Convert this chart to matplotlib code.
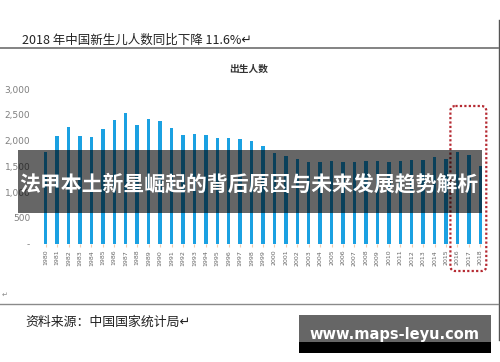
import matplotlib
matplotlib.use('Agg')
import matplotlib.pyplot as plt
from matplotlib.patches import Rectangle, FancyBboxPatch
from matplotlib.ticker import FuncFormatter

plt.rcParams['font.family'] = ['Noto Sans CJK SC', 'DejaVu Sans']

# 数据：出生人数（万人），读自原图
anios = list(range(1980, 2019))
nacimientos = [1780, 2090, 2265, 2085, 2070, 2222, 2410, 2545, 2300, 2430,
               2390, 2255, 2117, 2125, 2105, 2060, 2060, 2033, 1994, 1897,
               1767, 1697, 1647, 1592, 1588, 1605, 1586, 1592, 1605, 1605,
               1580, 1600, 1627, 1631, 1683, 1650, 1774, 1716, 1514]
y_ticks = [0, 500, 1000, 1500, 2000, 2500, 3000]
destacados = [2016, 2017, 2018]

titulo_doc = '2018 年中国新生儿人数同比下降 11.6%↵'
titulo_graf = '出生人数'
fuente = '资料来源：中国国家统计局↵'
banner = '法甲本土新星崛起的背后原因与未来发展趋势解析'
marca = 'www.maps-leyu.com'

W, H = 500, 362
fig = plt.figure(figsize=(W / 100, H / 100), dpi=100)

# eje de barras, colocado en píxeles
ax = fig.add_axes([40 / W, (H - 243.5) / H, 446 / W, 154.2 / H])
x = list(range(len(anios)))
ax.bar(x, nacimientos, width=0.3, color='#1ba1e2', zorder=2)
ax.set_xlim(-0.5, len(anios) - 0.5)
ax.set_ylim(0, 3000)
ax.set_yticks(y_ticks)
ax.yaxis.set_major_formatter(FuncFormatter(lambda v, p: '-' if v == 0 else f'{int(v):,}'))
ax.set_xticks(x)
ax.set_xticklabels([str(a) for a in anios], rotation=90, fontsize=4.5, color='#666666',
                   family='DejaVu Sans')
ax.tick_params(axis='y', length=0, pad=7, labelsize=6.5, labelcolor='#7f7f7f')
ax.tick_params(axis='x', length=2, color='#f3c9ad', pad=2.5)
for lbl in ax.get_yticklabels():
    lbl.set_family('DejaVu Sans')
for s in ax.spines.values():
    s.set_visible(False)
ax.patch.set_alpha(0)

# capa superior en coordenadas de píxel
ov = fig.add_axes([0, 0, 1, 1])
ov.set_xlim(0, W)
ov.set_ylim(H, 0)
ov.axis('off')
ov.patch.set_alpha(0)

ov.text(22, 40, titulo_doc, fontsize=9, color='#222222', va='center', ha='left')
ov.plot([0, 498], [48, 48], color='#7a7a7a', lw=1.3)
ov.plot([498.5, 498.5], [20, 340], color='#555555', lw=1.0)
ov.text(249, 69, titulo_graf, fontsize=7, color='#333333', va='center', ha='center',
        fontweight='bold')
ov.plot([0, 498], [303.5, 303.5], color='#8a8a8a', lw=1.0)
ov.text(2, 295, '↵', fontsize=5, color='#888888', va='center', ha='left')
ov.text(25, 322, fuente, fontsize=9.3, color='#222222', va='center', ha='left',
        style='italic')

# recuadro rojo punteado alrededor de los años destacados
i0 = anios.index(destacados[0])
i1 = anios.index(destacados[-1])
x0 = 40 + (i0 + 0.5) * 446 / len(anios) - 7
x1 = 40 + (i1 + 0.5) * 446 / len(anios) + 6
ov.add_patch(FancyBboxPatch((x0, 106), x1 - x0, 165, boxstyle='round,pad=0,rounding_size=5',
                            fill=False, edgecolor='#b52a32', lw=1.6, linestyle=(0, (1, 1))))

# banner oscuro
ov.add_patch(Rectangle((18, 150), 464, 63, color='black', alpha=0.6, lw=0))
ov.text(249, 184, banner, fontsize=15, color='white', fontweight='bold',
        va='center', ha='center')

# marca de agua
ov.add_patch(Rectangle((299, 315), 192, 27, color='#666666', lw=0))
ov.add_patch(Rectangle((299, 342), 192, 11, color='black', lw=0))
ov.text(394, 335, marca, fontsize=10.5, color='white', fontweight='bold',
        va='center', ha='center', family='DejaVu Sans')

fig.savefig('out.png', dpi=100, facecolor='white')
